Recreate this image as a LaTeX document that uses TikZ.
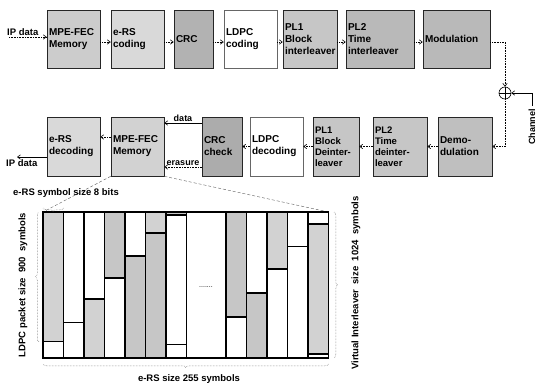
\documentclass[tikz,border=0pt]{standalone}
\usepackage{fontspec}
\setmainfont{Liberation Sans}
\usetikzlibrary{arrows.meta,decorations.pathreplacing,calc}
\begin{document}
\begin{tikzpicture}[x=1pt,y=-1pt,
  blk/.style={draw=black!85, line width=0.6pt, inner sep=2pt, align=left, anchor=center,
              font=\fontsize{10}{12}\selectfont\bfseries},
  conn/.style={densely dotted, line width=0.6pt, -{Straight Barb[length=3pt,width=4.5pt]}},
  lbl/.style={font=\fontsize{9}{10}\selectfont\bfseries, inner sep=1pt},
  big/.style={font=\fontsize{9.5}{10}\selectfont\bfseries, inner sep=1pt},
  brc/.style={densely dotted, gray!80!black, line width=0.5pt, decorate, decoration={brace, amplitude=3.5pt}},
  shadeA/.style={fill=gray!35},
  shadeB/.style={fill=gray!45},
  gridline/.style={line width=1.1pt, black}
]
\useasboundingbox (0,0) rectangle (544,386);

% ---------- top row ----------
\node[blk, fill=gray!40, minimum width=53pt, text width=49pt, minimum height=58pt] (m1) at (73.5,39) {MPE-FEC\\Memory};
\node[blk, fill=gray!30, minimum width=53pt, text width=49pt, minimum height=58pt] (ers) at (137.5,39) {e-RS\\coding};
\node[blk, fill=gray!60, minimum width=39pt, text width=35pt, minimum height=58pt] (crc) at (193.5,39) {CRC};
\node[blk, fill=white, minimum width=53pt, text width=49pt, minimum height=58pt, draw=black!60] (ldpc) at (250.5,39) {LDPC\\coding};
\node[blk, fill=gray!45, minimum width=54pt, text width=50pt, minimum height=58pt] (pl1) at (310,39) {PL1\\Block\\interleaver};
\node[blk, fill=gray!55, minimum width=68pt, text width=64pt, minimum height=58pt] (pl2) at (380,39) {PL2\\Time\\interleaver};
\node[blk, fill=gray!55, minimum width=67pt, text width=63pt, minimum height=58pt] (mod) at (456.5,39) {Modulation};

\coordinate (ipin) at (9,37);
\node[big, anchor=south west] (ipinl) at (6,37) {IP data};
\draw[conn] (ipin) -- (ipin -| m1.west);
\draw[conn] ([yshift=-3pt]m1.east) -- ([yshift=-3pt]ers.west);
\draw[conn] ([yshift=-3pt]ers.east) -- ([yshift=-3pt]crc.west);
\draw[conn] ([yshift=-3pt]crc.east) -- ([yshift=-3pt]ldpc.west);
\draw[conn] ([yshift=-3pt]ldpc.east) -- ([yshift=-3pt]pl1.west);
\draw[conn] ([yshift=-3pt]pl1.east) -- ([yshift=-3pt]pl2.west);
\draw[conn] ([yshift=-3pt]pl2.east) -- ([yshift=-3pt]mod.west);

% ---------- channel ----------
\node[draw, circle, line width=0.6pt, minimum size=12pt, inner sep=0pt] (sum) at (505,93) {};
\draw[line width=0.6pt] (sum.north) -- (sum.south) (sum.west) -- (sum.east);
\draw[conn] ([yshift=-3pt]mod.east) -| (sum.north);
\coordinate (chtop) at (532,106);
\node[lbl, rotate=90, anchor=east] (chl) at (532,108) {Channel};
\draw[conn, solid] (chtop) |- (sum.east);

% ---------- bottom row ----------
\node[blk, fill=gray!30, minimum width=53pt, text width=49pt, minimum height=59pt] (erd) at (73.5,146.5) {e-RS\\decoding};
\node[blk, fill=gray!35, minimum width=53pt, text width=49pt, minimum height=59pt] (m2) at (137.5,146.5) {MPE-FEC\\Memory};
\node[blk, fill=gray!65, minimum width=40pt, text width=36pt, minimum height=59pt] (crcc) at (222,146.5) {CRC\\check};
\node[blk, fill=white, minimum width=53pt, text width=49pt, minimum height=59pt, draw=black!60] (ldpcd) at (276.5,146.5) {LDPC\\decoding};
\node[blk, fill=gray!45, minimum width=46pt, text width=42pt, minimum height=59pt, font=\fontsize{9.5}{11}\selectfont\bfseries] (pl1d) at (336,146.5) {PL1\\Block\\Deinter-\\leaver};
\node[blk, fill=gray!45, minimum width=54pt, text width=50pt, minimum height=59pt, font=\fontsize{9.5}{11}\selectfont\bfseries] (pl2d) at (400,146.5) {PL2\\Time\\deinter-\\leaver};
\node[blk, fill=gray!50, minimum width=54pt, text width=50pt, minimum height=59pt] (dem) at (465,146.5) {Demo-\\dulation};

\draw[conn] (sum.south) |- (dem.east);
\draw[conn] (dem.west) -- (pl2d.east);
\draw[conn] (pl2d.west) -- (pl1d.east);
\draw[conn] (pl1d.west) -- (ldpcd.east);
\draw[conn] (ldpcd.west) -- (crcc.east);
\draw[conn, solid] ([yshift=23.5pt]crcc.west) -- node[lbl, above=0.5pt] (datal) {data} ([yshift=23.5pt]m2.east);
\draw[conn] ([yshift=-20.5pt]crcc.west) -- node[lbl, above=0.5pt] (erl) {erasure} ([yshift=-20.5pt]m2.east);
\draw[conn] ([yshift=9.5pt]m2.west) -- ([yshift=9.5pt]erd.east);
\coordinate (ipout) at (17,157);
\draw[conn, solid] (erd.west |- ipout) -- (ipout);
\node[big, anchor=north west] (ipoutl) at (5,158) {IP data};

% ---------- interleaver grid ----------
\coordinate (gtl) at (43,212);
\coordinate (gtr) at (328.5,212);
\coordinate (gbl) at (43,358);
\coordinate (gbr) at (328.5,358);
\draw[densely dashed, line width=0.4pt, gray!70!black] (m2.south west) -- (gtl);
\draw[densely dashed, line width=0.4pt, gray!70!black] (m2.south east) -- (gtr);

% shaded cells
\fill[shadeA] (43,212) rectangle (63.5,341.7);
\fill[shadeA] (84,299) rectangle (104.5,358);
\fill[shadeB] (104.5,212) rectangle (125,278);
\fill[shadeB] (125,256) rectangle (145.5,358);
\fill[shadeA] (145.5,212) rectangle (166,233);
\fill[shadeB] (145.5,233) rectangle (166,358);
\fill[shadeB] (166,212) rectangle (186.5,215);
\fill[shadeB] (226,212) rectangle (246.5,317);
\fill[shadeB] (246.5,293) rectangle (267,358);
\fill[shadeA] (267,212) rectangle (287.5,269);
\fill[shadeA] (308,224) rectangle (328.5,354);

% split lines
\foreach \xa/\xb/\ys in {43/63.5/341.7, 63.5/84/322.7, 84/104.5/299, 104.5/125/278, 125/145.5/256,
  145.5/166/233, 166/186.5/215, 166/186.5/344.5, 226/246.5/317, 246.5/267/293, 267/287.5/269,
  287.5/308/246.5, 308/328.5/224, 308/328.5/354}
  \draw[gridline] (\xa,\ys) -- (\xb,\ys);
% column lines
\foreach \xc in {63.5,84,104.5,125,145.5,166,186.5,226,246.5,267,287.5,308}
  \draw[gridline] (\xc,212) -- (\xc,358);
\draw[gridline] (gtl) rectangle (gbr);
\node[font=\fontsize{7}{8}\selectfont] (dots) at (206,287) {.......};

% braces and labels
\draw[brc] (63.5,208) -- (43,208);
\node[big, anchor=west] (symsz) at (12,193) {e-RS symbol size 8 bits};
\draw[brc] (39,341.7) -- (39,212);
\node[big, rotate=90] (ldpcl) at (23,285) {LDPC packet size~~900~~symbols};
\draw[brc] (328.5,364) -- (43,364);
\node[big] (ersl) at (189,379) {e-RS size 255 symbols};
\draw[brc] (334,212) -- (334,358);
\node[big, rotate=90] (vil) at (356,283) {Virtual Interleaver~~size~~1024~~symbols};
\end{tikzpicture}
\end{document}
